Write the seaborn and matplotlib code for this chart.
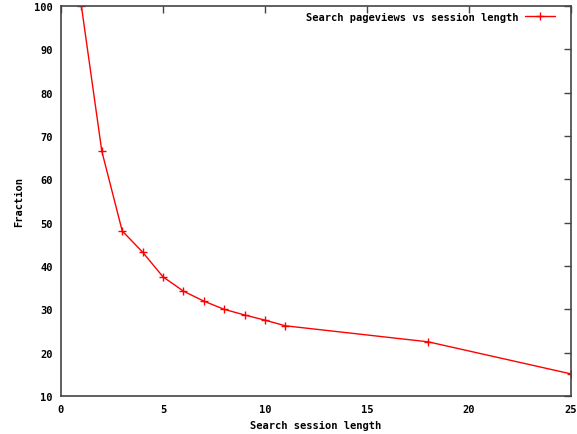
import matplotlib
matplotlib.use("Agg")
import matplotlib.pyplot as plt
import seaborn as sns
import pandas as pd

session_length = [1, 2, 3, 4, 5, 6, 7, 8, 9, 10, 11, 18, 25]
fraction = [100, 66.5, 48.1, 43.2, 37.5, 34.2, 31.9, 30.0, 28.7, 27.5, 26.2, 22.5, 15.1]
series_label = "Search pageviews vs session length"

df = pd.DataFrame({"x": session_length, "y": fraction, "s": series_label})

sns.set_style("white")
plt.rcParams["font.family"] = ["DejaVu Sans Mono"]
plt.rcParams["font.weight"] = "bold"
plt.rcParams["text.color"] = "black"
plt.rcParams["axes.labelcolor"] = "black"

fig = plt.figure(figsize=(5.77, 4.35), dpi=100)
ax = fig.add_axes([61/577, 1 - 397/435, (571-61)/577, (397-7)/435])

sns.lineplot(data=df, x="x", y="y", hue="s", palette=["#ff0000"], marker="+",
             markersize=6, markeredgewidth=1.0, markeredgecolor="#ff0000",
             linewidth=1.0, ax=ax)

ax.set_xlim(0, 25)
ax.set_ylim(10, 100)
ax.set_xticks(range(0, 26, 5))
ax.set_yticks(range(10, 101, 10))
ax.tick_params(direction="in", length=5, width=1, top=True, right=True,
               labelsize=7.5, colors="#444444", labelcolor="black", pad=6)
for lab in ax.get_xticklabels() + ax.get_yticklabels():
    lab.set_fontweight("bold")
for sp in ax.spines.values():
    sp.set_color("#444444")
    sp.set_linewidth(1.2)

ax.set_xlabel("Search session length", fontsize=7.5, fontweight="bold", labelpad=4, color="black")
ax.set_ylabel("Fraction", fontsize=7.5, fontweight="bold", labelpad=7, color="black")

leg = ax.legend(loc="upper right", bbox_to_anchor=(0.975, 0.995), frameon=False,
                markerfirst=False, handlelength=2.8, borderaxespad=0.0,
                borderpad=0.35, handletextpad=0.7,
                prop={"weight": "bold", "size": 7.5})
for t in leg.get_texts():
    t.set_color("black")

fig.savefig("out.png", dpi=100)
